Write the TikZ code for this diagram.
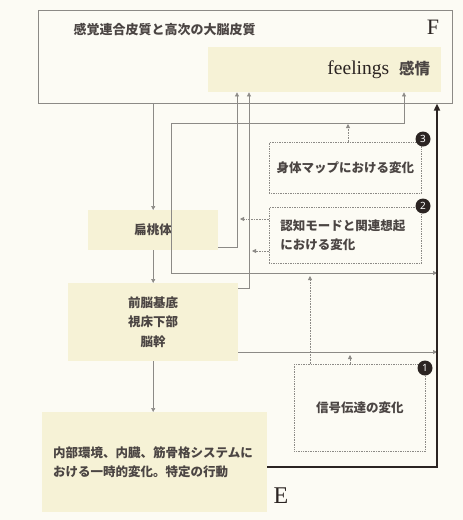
\documentclass[tikz,border=0pt]{standalone}
\usepackage{fontspec}
\usetikzlibrary{arrows.meta}
\newfontfamily\jp{Noto Sans CJK JP}
\newfontfamily\lat{Liberation Serif}
\definecolor{paper}{HTML}{FCFBF4}
\definecolor{cream}{HTML}{F6F2D6}
\definecolor{wire}{HTML}{8C8A86}
\definecolor{ink}{HTML}{2B2422}

\begin{document}
\begin{tikzpicture}[x=1pt, y=-1pt,
    jptext/.style={font=\jp\bfseries\fontsize{12.5}{19.5}\selectfont, text=ink!85},
    ybox/.style={jptext, fill=cream, anchor=north west, inner sep=0pt},
    dbox/.style={jptext, draw=wire, densely dotted, line width=0.7pt, anchor=north west, inner sep=0pt},
    badge/.style={circle, fill=ink, text=white, inner sep=0pt, minimum size=15pt,
        font=\fontspec{Noto Sans}\bfseries\fontsize{10}{10}\selectfont},
    arr/.style={draw=wire, line width=0.6pt, -{Triangle[width=4pt,length=4pt]}},
    biarr/.style={arr, {Triangle[width=4pt,length=4pt]}-{Triangle[width=4pt,length=4pt]}},
    darr/.style={arr, densely dotted, line width=0.8pt},
    main/.style={draw=ink, line width=1.7pt, -{Triangle[width=6pt,length=7pt]}}]
    \fill[paper] (0,0) rectangle (463,520);
    \useasboundingbox (0,0) rectangle (463,520);

    % cortex and feelings
    \node[draw=wire, line width=0.6pt, anchor=north west, minimum width=414, minimum height=93, inner sep=0pt] (cortex) at (38,10) {};
    \node[jptext, anchor=west, font=\jp\bfseries\fontsize{13}{15}\selectfont] (ctitle) at (70,30) {感覚連合皮質と高次の大脳皮質};
    \node[text=ink, font=\lat\fontsize{22}{24}\selectfont] (F) at (433,27) {F};
    \node[ybox, minimum width=233, minimum height=45, text width=211pt, inner xsep=11pt, align=right] (feel) at (208,47)
        {{\lat\mdseries\color{ink}\fontsize{19.5}{20}\selectfont feelings}\hspace{10pt}{\jp\bfseries\fontsize{15.5}{18}\selectfont 感情}};

    % brain stations
    \node[ybox, minimum width=130, minimum height=40] (amyg) at (88,210) {扁桃体};
    \node[ybox, minimum width=170, minimum height=78, align=center] (basal) at (68,283) {前脳基底\\視床下部\\脳幹};
    \node[ybox, minimum width=225, minimum height=100, text width=203pt, inner xsep=11pt, align=left] (bodyst) at (42,412)
        {内部環境、内臓、筋骨格システムに\\おける一時的変化。特定の行動};
    \node[text=ink, font=\lat\fontsize{24}{26}\selectfont] (E) at (281,496) {E};

    % changes
    \node[dbox, minimum width=152, minimum height=51] (ch3) at (269,142) {身体マップにおける変化};
    \node[dbox, minimum width=152, minimum height=56, text width=130pt, inner xsep=11pt, align=left] (ch2) at (269,207)
        {認知モードと関連想起\\における変化};
    \node[dbox, minimum width=131, minimum height=87] (ch1) at (294,364) {信号伝達の変化};
    \node[badge] (b3) at (423,139) {3};
    \node[badge] (b2) at (423,206) {2};
    \node[badge] (b1) at (425,368) {1};

    % junctions
    \coordinate (rt) at (437,0);
    \coordinate (ja) at (237,247);
    \coordinate (jb) at (249,288);
    \coordinate (jc) at (404,123);
    \coordinate (jd) at (171,273);
    \coordinate (je) at (0,352);
    \coordinate (jf) at (0,467);

    % solid connectors
    \draw[arr] (cortex.south -| amyg.north) -- (amyg.north);
    \draw[arr] (amyg.south) -- (basal.north);
    \draw[arr] (basal.south) -- (basal.south |- bodyst.north);
    \draw[arr] (amyg.east |- ja) -- (ja) -- (ja |- feel.south);
    \draw[arr] (basal.east |- jb) -- (jb) -- (jb |- feel.south);
    \draw[biarr] (jd -| rt) -- (jd) -- (jd |- jc) -- (jc) -- (jc |- feel.south);
    \draw[arr] (basal.east |- je) -- (je -| rt);
    \draw[main] (bodyst.east |- jf) -- (jf -| rt) -- (rt |- cortex.south);

    % dotted connectors
    \draw[darr] (ch3.north -| 348,0) -- (348,124);
    \draw[darr] (ch2.west |- 0,219) -- (240,219);
    \draw[darr] (ch2.west |- 0,251) -- (252,251);
    \draw[darr] (ch1.north -| 310,0) -- (310,276);
    \draw[darr] (ch1.north -| 350,0) -- (350,355);
\end{tikzpicture}
\end{document}
